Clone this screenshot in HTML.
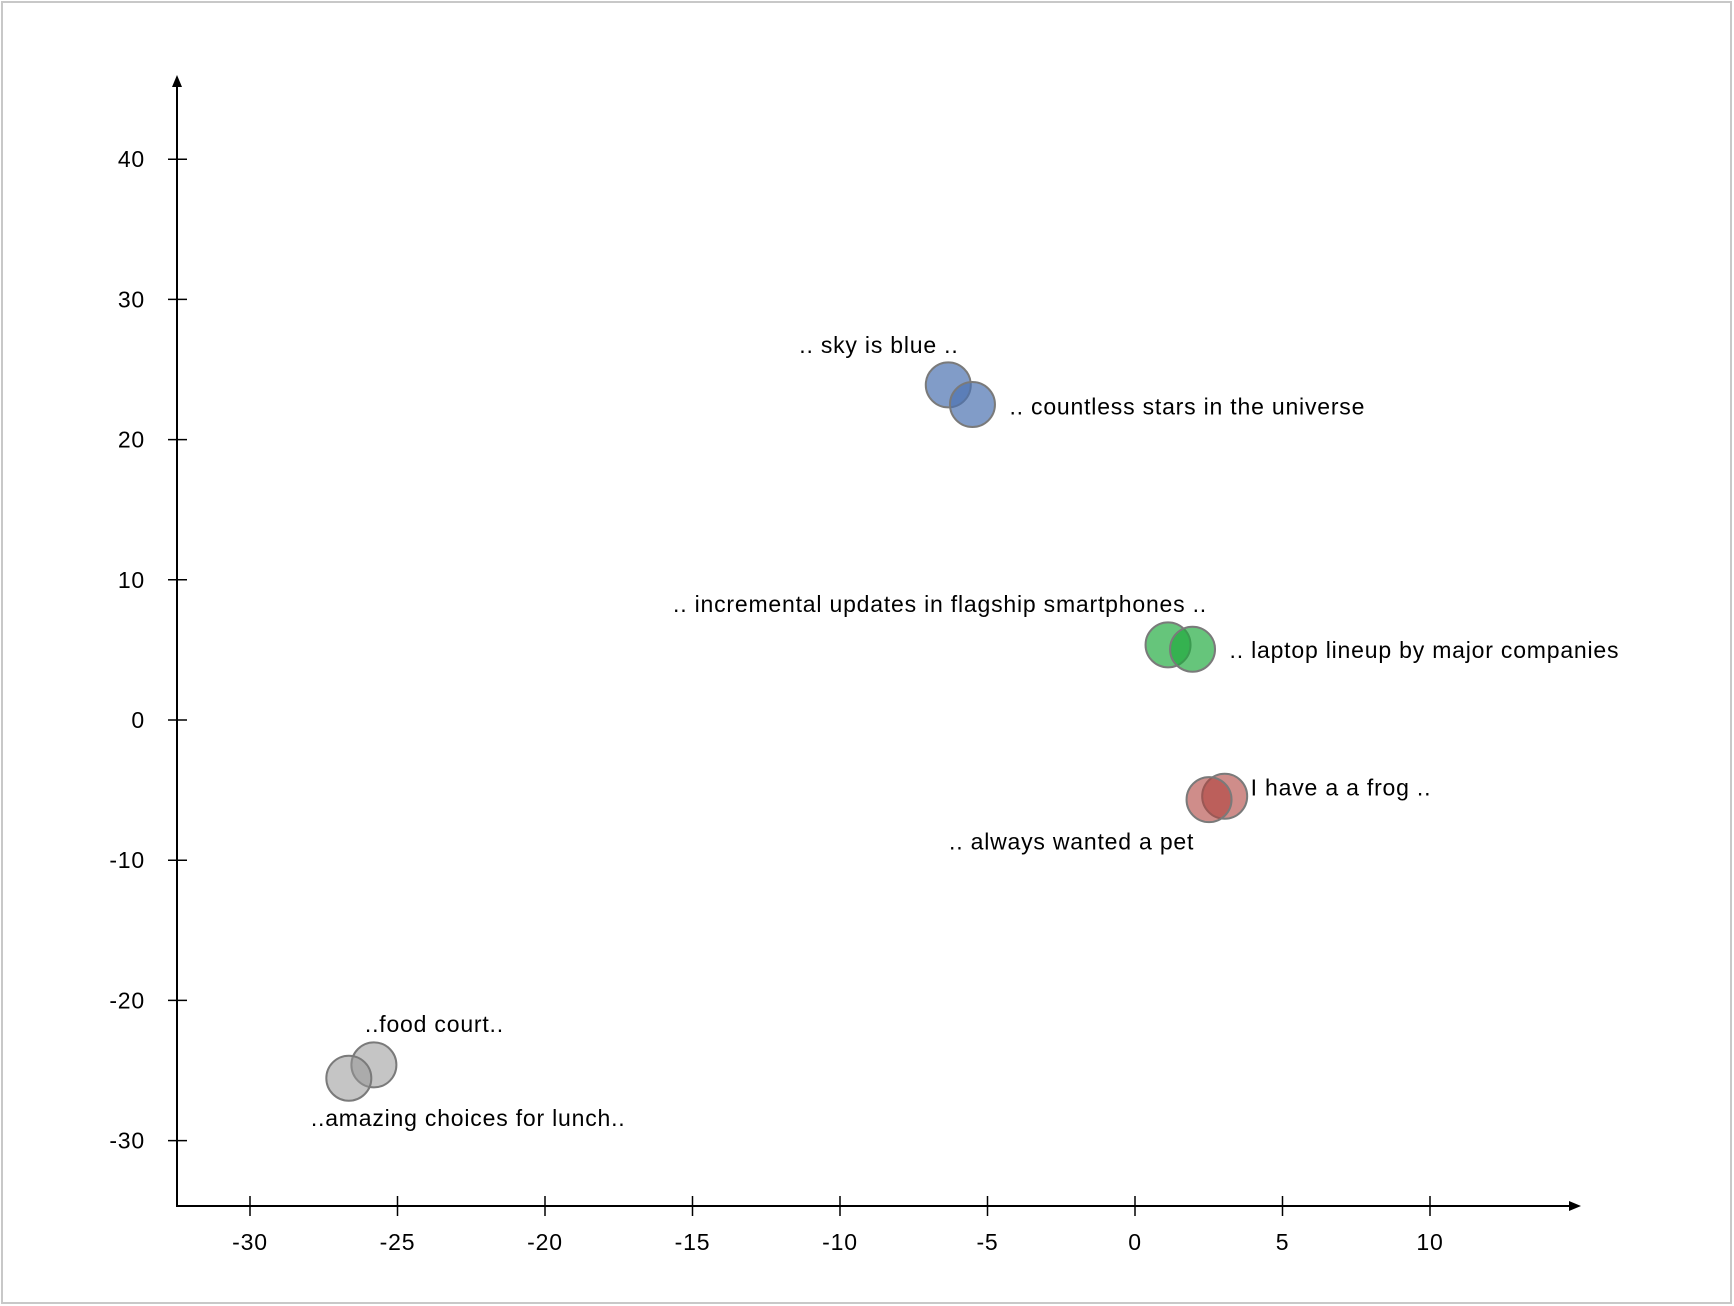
<!DOCTYPE html>
<html><head><meta charset="utf-8"><style>
html,body{margin:0;padding:0;background:#fff;}
svg{display:block;font-family:"Liberation Sans",sans-serif;}
svg text{letter-spacing:0.8px;}
</style></head><body>
<svg id="chart" width="1734" height="1306" xmlns="http://www.w3.org/2000/svg">
<rect x="2" y="2" width="1729" height="1301" fill="#fff" stroke="#c8c8c8" stroke-width="2"/>
<g id="axes"></g>
<g id="marks"></g>
</svg>
<script>
const xTicks=[-30,-25,-20,-15,-10,-5,0,5,10];
const yTicks=[40,30,20,10,0,-10,-20,-30];
const labels=[".. sky is blue ..",".. countless stars in the universe",".. incremental updates in flagship smartphones ..",".. laptop lineup by major companies","I have a a frog ..",".. always wanted a pet","..food court..","..amazing choices for lunch.."];
const xs=[-6.33,-5.51,1.12,1.95,3.04,2.51,-25.8,-26.65];
const ys=[23.9,22.5,5.36,5.05,-5.44,-5.68,-24.6,-25.55];
const groups=["blue","blue","green","green","red","red","gray","gray"];

const NS="http://www.w3.org/2000/svg";
function X(v){return 1135+v*29.5;}
function Y(v){return 720-v*14.02;}
const colors={blue:"rgba(76,114,176,0.7)",green:"rgba(30,170,60,0.68)",red:"rgba(175,65,60,0.6)",gray:"rgba(150,150,150,0.55)"};
const off=[[-149,-40],[37,2],[-495,-41],[37,1],[26,-9],[-260,42],[-9,-41],[-38,40]];
function mk(tag,attrs,parent){const e=document.createElementNS(NS,tag);for(const k in attrs)e.setAttribute(k,attrs[k]);parent.appendChild(e);return e;}
const axes=document.getElementById('axes'),marks=document.getElementById('marks');
const yl=mk('line',{x1:177,y1:1207,x2:177,y2:82,stroke:'#000','stroke-width':2},axes);


const ya=mk('path',{d:'M177,75 L172,87 L182,87 Z',fill:'#000'},axes);


const xl=mk('line',{x1:176,y1:1206,x2:1574,y2:1206,stroke:'#000','stroke-width':2},axes);


const xa=mk('path',{d:'M1581,1206 L1569,1201 L1569,1211 Z',fill:'#000'},axes);


xTicks.forEach(t=>{
 const l=mk('line',{x1:X(t),x2:X(t),y1:1196,y2:1216,stroke:'#000','stroke-width':1.5},axes);
 
 
 const tx=mk('text',{x:X(t),y:1250,'text-anchor':'middle','font-size':23,fill:'#000'},axes);
 tx.textContent=t;
 
 
});
yTicks.forEach(t=>{
 const l=mk('line',{x1:168,x2:187,y1:Y(t),y2:Y(t),stroke:'#000','stroke-width':1.5},axes);
 
 
 const tx=mk('text',{x:145,y:Y(t)+8,'text-anchor':'end','font-size':23,fill:'#000'},axes);
 tx.textContent=t;
 
 
});
xs.forEach((v,i)=>{
 const c=mk('circle',{cx:X(v),cy:Y(ys[i]),r:22.5,fill:colors[groups[i]],stroke:'#7a7a7a','stroke-width':2},marks);
 
 
});
xs.forEach((v,i)=>{
 const t=mk('text',{x:X(v)+off[i][0],y:Y(ys[i])+off[i][1]+8,'font-size':23,fill:'#000'},marks);
 t.textContent=labels[i];
 
 
});
</script>
</body></html>
